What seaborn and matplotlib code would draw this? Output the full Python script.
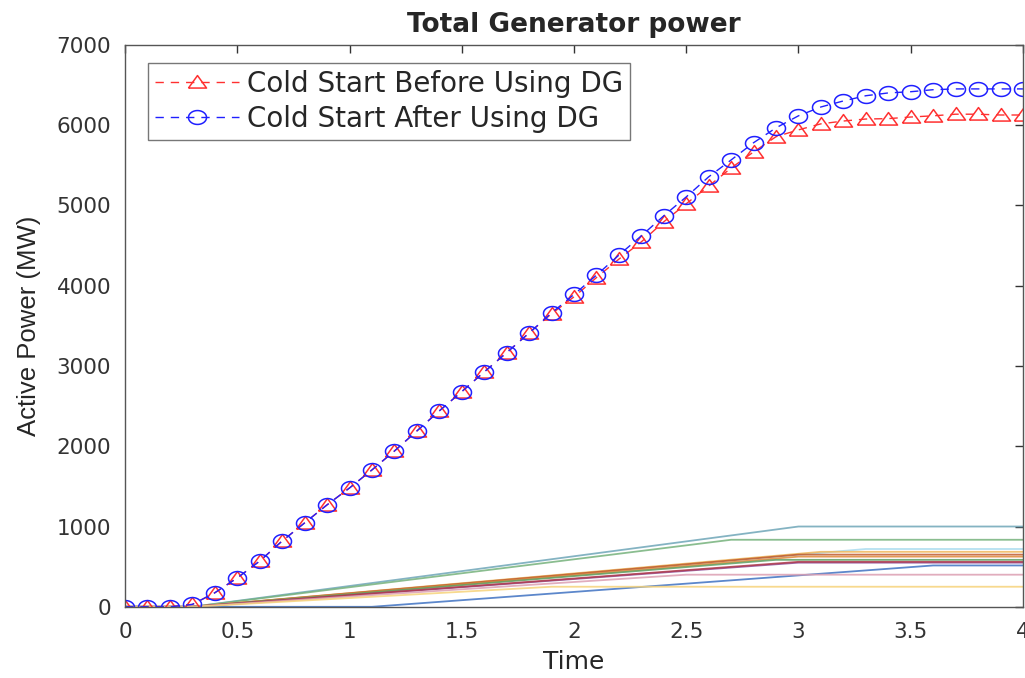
import numpy as np
import pandas as pd
import matplotlib
matplotlib.use('Agg')
import matplotlib.pyplot as plt
import seaborn as sns

# time samples of the two total-power curves
time = [round(0.1 * i, 1) for i in range(41)]

before_dg = [0, 0, 0, 30, 175, 360, 570, 820, 1045, 1270,
             1480, 1705, 1940, 2190, 2440, 2680, 2925, 3165, 3410, 3650,
             3860, 4100, 4330, 4545, 4795, 5020, 5240, 5465, 5665, 5855,
             5940, 6015, 6050, 6075, 6080, 6100, 6115, 6135, 6135, 6125, 6125]

after_dg = [0, 0, 0, 30, 175, 360, 570, 820, 1045, 1270,
            1480, 1705, 1940, 2190, 2440, 2680, 2925, 3165, 3410, 3660,
            3890, 4130, 4380, 4620, 4870, 5105, 5355, 5565, 5780, 5965,
            6115, 6225, 6300, 6365, 6400, 6415, 6440, 6450, 6450, 6450, 6450]

# individual generators: ramp start, ramp end, final output (MW)
gen_names = ['G1', 'G2', 'G3', 'G4', 'G5', 'G6', 'G7', 'G8', 'G9', 'G10', 'G11', 'G12']
gen_start = [0.3, 0.3, 0.3, 0.3, 0.3, 0.3, 0.3, 0.3, 0.3, 1.1, 0.3, 0.3]
gen_end = [3.0, 2.7, 3.3, 3.1, 3.0, 3.0, 2.9, 3.0, 3.0, 3.6, 2.5, 1.9]
gen_final = [1000, 835, 720, 685, 650, 625, 585, 550, 560, 515, 400, 250]
gen_colors = ['#6fa6b8', '#76b27c', '#a9dbef', '#f0b85a', '#c05a2e', '#e0893a',
              '#5e9f62', '#8d4c98', '#b03a4a', '#3f72c2', '#dc9fb2', '#f6d37a']

rows = []
for name, s, e, f in zip(gen_names, gen_start, gen_end, gen_final):
    for t, p in zip([0, s, e, 4], [0, 0, f, f]):
        rows.append({'gen': name, 'Time': t, 'P': p})
gens = pd.DataFrame(rows)

# markers look a bit stretched sideways in the original
ang = np.linspace(0, 2 * np.pi, 40)
ellipse = list(zip(1.3 * np.cos(ang), np.sin(ang)))
triangle = [(-1.3, -0.8), (1.3, -0.8), (0, 1.0), (-1.3, -0.8)]

sns.set_style('white')
plt.rcParams['font.family'] = ['DejaVu Sans']

fig = plt.figure(figsize=(10.25, 6.78), dpi=100)
ax = fig.add_axes([0.122, 0.105, 0.876, 0.829])

sns.lineplot(data=gens, x='Time', y='P', hue='gen', palette=gen_colors,
             linewidth=1.3, alpha=0.85, legend=False, ax=ax)

sns.lineplot(x=time, y=before_dg, color='#ff3030', linestyle=(0, (6, 5)), linewidth=1,
             marker=triangle, markersize=13, markerfacecolor='none', markeredgecolor='#ff3030',
             markeredgewidth=1.1, label='Cold Start Before Using DG', ax=ax)
sns.lineplot(x=time, y=after_dg, color='#2020ff', linestyle=(0, (6, 5)), linewidth=1,
             marker=ellipse, markersize=13, markerfacecolor='none', markeredgecolor='#2020ff',
             markeredgewidth=1.1, label='Cold Start After Using DG', ax=ax)

ax.set_xlim(0, 4)
ax.set_ylim(0, 7000)
ax.set_xticks([0, 0.5, 1, 1.5, 2, 2.5, 3, 3.5, 4])
ax.set_xticklabels(['0', '0.5', '1', '1.5', '2', '2.5', '3', '3.5', '4'])
ax.set_yticks(range(0, 7001, 1000))
ax.tick_params(direction='in', length=6, width=1, labelsize=15.5, colors='#333333',
               top=True, right=True)
ax.tick_params(axis='x', pad=11)
ax.tick_params(axis='y', pad=10)
for sp in ax.spines.values():
    sp.set_color('#555555')
    sp.set_linewidth(1)

ax.set_title('Total Generator power', fontsize=19, fontweight='bold', pad=9)
ax.set_xlabel('Time', fontsize=18, labelpad=6)
ax.set_ylabel('Active Power (MW)', fontsize=18.5, labelpad=11, family='Liberation Sans')

leg = ax.legend(loc='upper left', bbox_to_anchor=(0.026, 0.968), fontsize=20,
                frameon=True, fancybox=False, edgecolor='#555555',
                handlelength=3, borderpad=0.25, labelspacing=0.25, handletextpad=0.3,
                borderaxespad=0)
leg.get_frame().set_linewidth(1)

fig.savefig('out.png', dpi=100)
